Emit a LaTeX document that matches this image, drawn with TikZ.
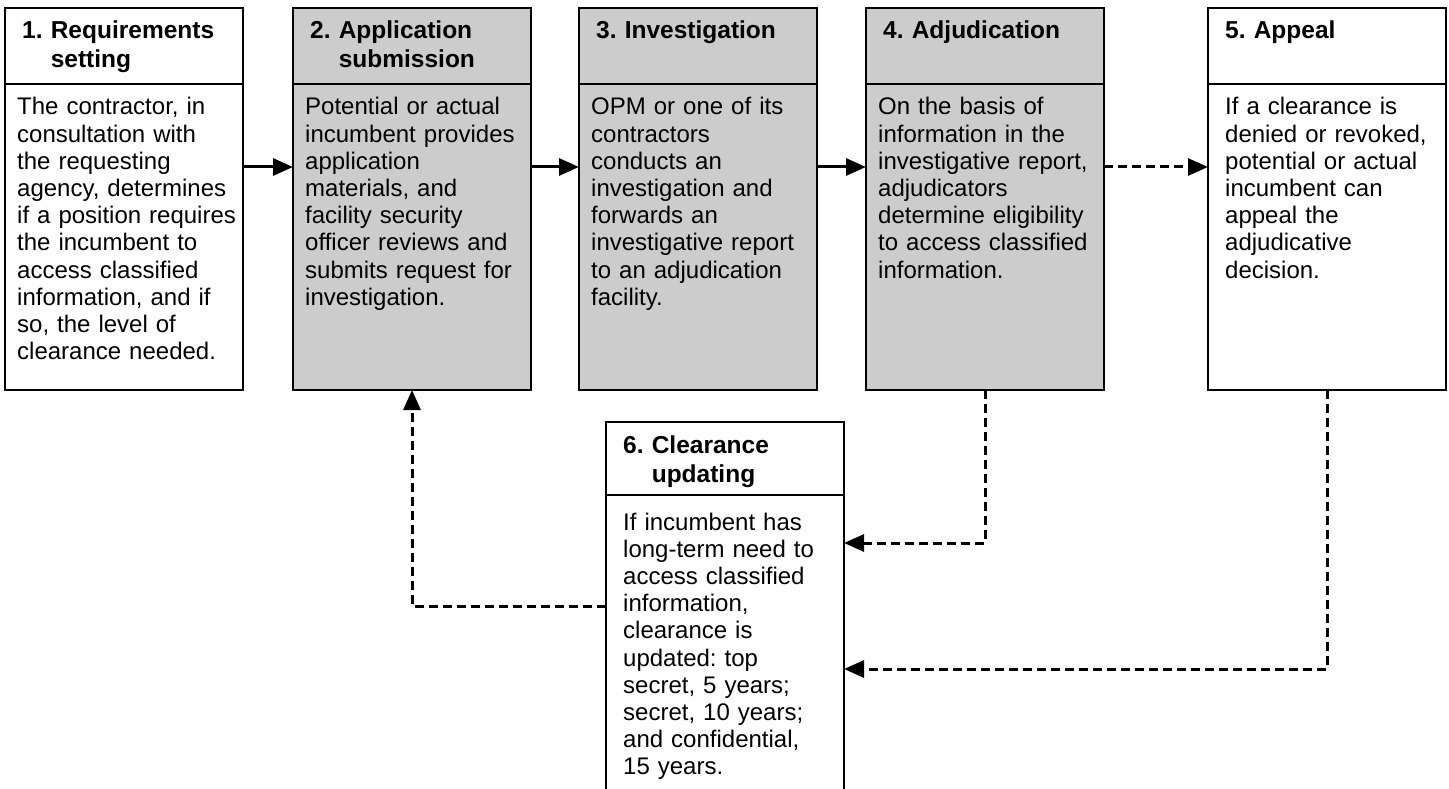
\documentclass[tikz,border=0pt]{standalone}
\usepackage{fontspec}
\setmainfont{Liberation Sans}
\usetikzlibrary{positioning, arrows.meta}
\definecolor{stepgray}{RGB}{204,204,204}
\frenchspacing
\tikzset{
  headbox/.style={draw, line width=1.8pt, minimum width=238pt, minimum height=76pt,
    inner sep=0, outer sep=0, anchor=north west},
  bodybox/.style={draw, line width=1.8pt, minimum width=238pt, minimum height=306pt,
    inner sep=0, outer sep=0},
  headtext/.style={anchor=base west, inner sep=0, text width=225pt, align=left,
    font=\fontsize{24.5}{29}\selectfont\bfseries},
  bodytext/.style={anchor=base west, inner sep=0, text width=234pt, align=left,
    font=\fontsize{24}{27.2}\selectfont},
  flow/.style={line width=3pt, -{Triangle[length=20pt,width=17pt]}},
  dashflow/.style={flow, dash pattern=on 9pt off 5pt}
}

\begin{document}
\begin{tikzpicture}[x=1pt, y=-1pt]

\useasboundingbox (0,0) rectangle (1449,789);

% top row
\node [headbox] (h1) at (5,8) {};
\node [bodybox, below=0pt of h1] (b1) {};
\node [headtext] (h1t) at ([xshift=17pt,yshift=-31pt]h1.north west) {1.~Requirements\\\hphantom{1.~}setting};
\node [bodytext] (b1t) at ([xshift=12pt,yshift=-31pt]b1.north west) {The contractor, in\\consultation with\\the requesting\\agency, determines\\if a position requires\\the incumbent to\\access classified\\information, and if\\so, the level of\\clearance needed.};

\node [headbox, fill=stepgray] (h2) at (293,8) {};
\node [bodybox, fill=stepgray, below=0pt of h2] (b2) {};
\node [headtext] (h2t) at ([xshift=17pt,yshift=-31pt]h2.north west) {2.~Application\\\hphantom{2.~}submission};
\node [bodytext] (b2t) at ([xshift=12pt,yshift=-31pt]b2.north west) {Potential or actual\\incumbent provides\\application\\materials, and\\facility security\\officer reviews and\\submits request for\\investigation.};

\node [headbox, fill=stepgray] (h3) at (579,8) {};
\node [bodybox, fill=stepgray, below=0pt of h3] (b3) {};
\node [headtext] (h3t) at ([xshift=17pt,yshift=-31pt]h3.north west) {3.~Investigation};
\node [bodytext] (b3t) at ([xshift=12pt,yshift=-31pt]b3.north west) {OPM or one of its\\contractors\\conducts an\\investigation and\\forwards an\\investigative report\\to an adjudication\\facility.};

\node [headbox, fill=stepgray] (h4) at (866,8) {};
\node [bodybox, fill=stepgray, below=0pt of h4] (b4) {};
\node [headtext] (h4t) at ([xshift=17pt,yshift=-31pt]h4.north west) {4.~Adjudication};
\node [bodytext] (b4t) at ([xshift=12pt,yshift=-31pt]b4.north west) {On the basis of\\information in the\\investigative report,\\adjudicators\\determine eligibility\\to access classified\\information.};

\node [headbox] (h5) at (1208,8) {};
\node [bodybox, below=0pt of h5] (b5) {};
\node [headtext] (h5t) at ([xshift=17pt,yshift=-31pt]h5.north west) {5.~Appeal};
\node [bodytext] (b5t) at ([xshift=17pt,yshift=-31pt]b5.north west) {If a clearance is\\denied or revoked,\\potential or actual\\incumbent can\\appeal the\\adjudicative\\decision.};

% updating box
\node [headbox, minimum height=73pt] (h6) at (606,422) {};
\node [bodybox, minimum height=310pt, below=0pt of h6] (b6) {};
\node [headtext] (h6t) at ([xshift=17pt,yshift=-31pt]h6.north west) {6.~Clearance\\\hphantom{6.~}updating};
\node [bodytext] (b6t) at ([xshift=17pt,yshift=-35pt]b6.north west) {If incumbent has\\long-term need to\\access classified\\information,\\clearance is\\updated: top\\secret, 5 years;\\secret, 10 years;\\and confidential,\\15 years.};

% connectors
\draw [flow] ([yshift=70pt]b1.east) -- ([yshift=70pt]b2.west);
\draw [flow] ([yshift=70pt]b2.east) -- ([yshift=70pt]b3.west);
\draw [flow] ([yshift=70pt]b3.east) -- ([yshift=70pt]b4.west);
\draw [dashflow] ([yshift=70pt]b4.east) -- ([yshift=70pt]b5.west);

\draw [dashflow] (b4.south) |- ([yshift=-48pt]b6.north east);
\draw [dashflow] (b5.south) |- ([yshift=-174pt]b6.north east);
\draw [dashflow] ([yshift=-111pt]b6.north west) -| (b2.south);

\end{tikzpicture}
\end{document}
